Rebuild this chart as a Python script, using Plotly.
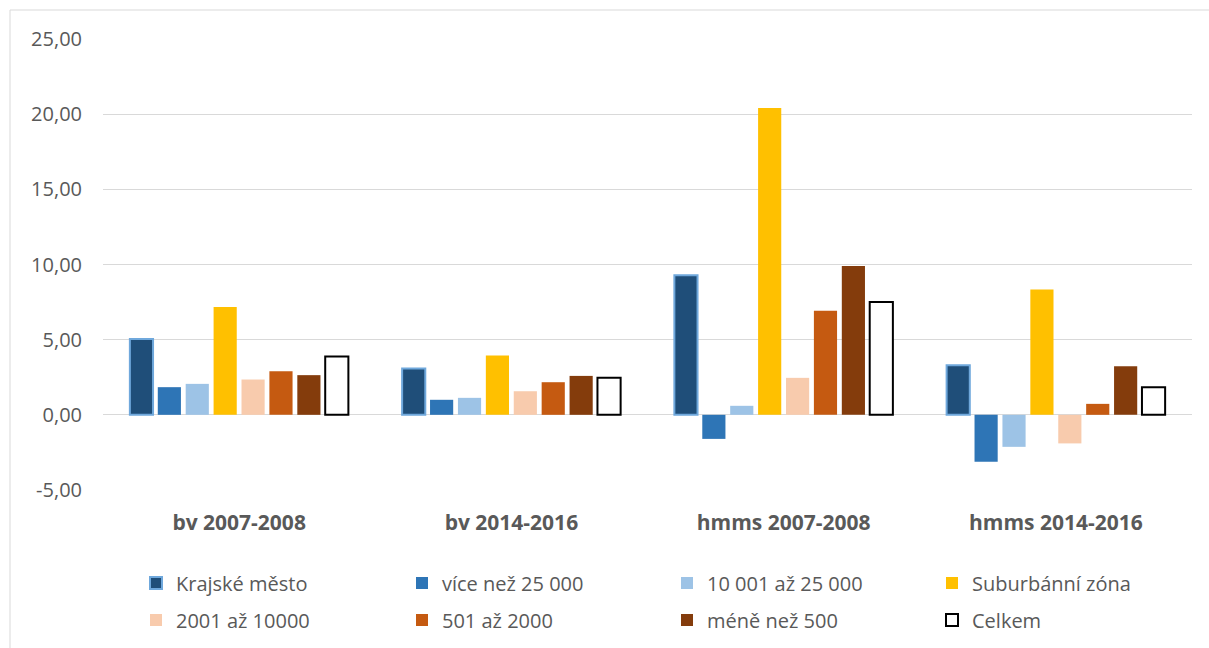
import plotly.graph_objects as go

categories = ["bv 2007-2008", "bv 2014-2016", "hmms 2007-2008", "hmms 2014-2016"]
series_names = ["Krajské město", "více než 25 000", "10 001 až 25 000", "Suburbánní zóna",
                "2001 až 10000", "501 až 2000", "méně než 500", "Celkem"]
krajske = [5.05, 3.08, 9.28, 3.30]
vice25 = [1.84, 1.00, -1.60, -3.12]
v10_25 = [2.06, 1.13, 0.60, -2.13]
suburb = [7.18, 3.94, 20.41, 8.34]
v2001 = [2.35, 1.57, 2.46, -1.90]
v501 = [2.90, 2.17, 6.93, 0.73]
mene500 = [2.64, 2.59, 9.90, 3.24]
celkem = [3.88, 2.46, 7.51, 1.84]
values = [krajske, vice25, v10_25, suburb, v2001, v501, mene500, celkem]

y_tick_vals = [-5, 0, 5, 10, 15, 20, 25]
y_tick_labels = ["-5,00", "0,00", "5,00", "10,00", "15,00", "20,00", "25,00"]

fills = ["#1F4E79", "#2E75B6", "#9DC3E6", "#FFC000", "#F8CBAD", "#C55A11", "#843C0C", "#FFFFFF"]
lines = ["#6FA8DC", None, None, None, None, None, None, "#000000"]
FONT = "Open Sans, sans-serif"
GREY = "#595959"

W, H = 1209, 648
ml, mr, mt, mb = 103, 17, 39, 158
pw, ph = W - ml - mr, H - mt - mb


def px(x):
    return (x - ml) / pw


def py(y):
    return (H - mb - y) / ph


# legend text start columns (pixels) and row centers (pixels)
col_text = [176, 442, 707, 972]
row_y = [583, 620]

fig = go.Figure()
legends = {}
for i, (name, vals) in enumerate(zip(series_names, values)):
    lc = lines[i]
    key = "legend" if i == 0 else f"legend{i + 1}"
    fig.add_trace(go.Bar(
        x=categories, y=vals, name=name, showlegend=True,
        marker=dict(color=fills[i],
                    line=dict(color=lc if lc else fills[i], width=2 if lc else 0)),
        legend=key,
    ))
    legends[key] = dict(
        orientation="h", xanchor="left", yanchor="middle",
        x=px(col_text[i % 4] - 40), y=py(row_y[i // 4]),
        font=dict(family=FONT, size=20, color=GREY),
        bgcolor="rgba(0,0,0,0)", borderwidth=0,
    )

fig.update_layout(
    width=W, height=H,
    showlegend=True,
    margin=dict(l=ml, r=mr, t=mt, b=mb, autoexpand=False),
    paper_bgcolor="white", plot_bgcolor="white",
    separators=", ",
    barmode="group", bargap=0.18, bargroupgap=0.17,
    font=dict(family=FONT, size=20, color=GREY),
    xaxis=dict(showgrid=False, showline=False, ticks="",
               tickfont=dict(family=FONT, size=21, color=GREY, weight="bold"),
               ticklabelstandoff=18),
    yaxis=dict(range=[-5, 25], tickmode="array", tickvals=y_tick_vals, ticktext=y_tick_labels,
               showgrid=True, gridcolor="#D9D9D9", gridwidth=1,
               zeroline=True, zerolinecolor="#D9D9D9", zerolinewidth=1,
               showline=False, ticks="",
               tickfont=dict(family=FONT, size=20, color=GREY),
               ticklabelstandoff=20),
    shapes=[dict(type="rect", xref="paper", yref="paper",
                 x0=px(10), x1=px(1230), y0=py(700), y1=py(10),
                 line=dict(color="#D9D9D9", width=1), fillcolor="rgba(0,0,0,0)",
                 layer="below")],
    **legends,
)

fig.write_html("out.html", config={"displayModeBar": False},
               post_script="document.body.style.margin='0';")
